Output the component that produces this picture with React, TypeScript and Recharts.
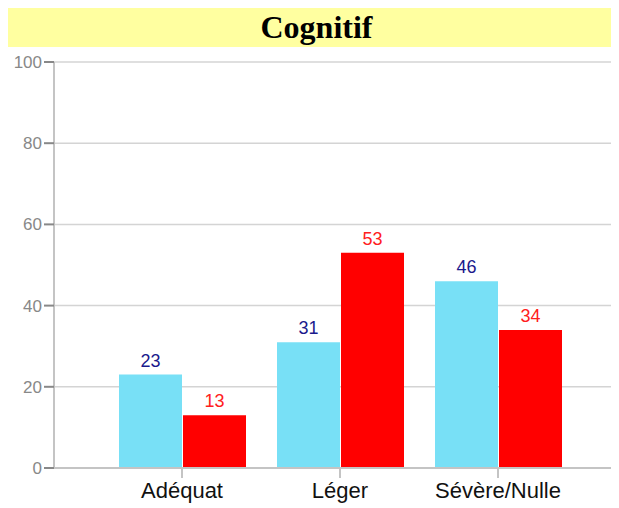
import { Bar, BarChart, CartesianGrid, LabelList, XAxis, YAxis } from 'recharts'

const categories = ['Adéquat', 'Léger', 'Sévère/Nulle']
const serieBleue = [23, 31, 46]
const serieRouge = [13, 53, 34]
const yTicks = [0, 20, 40, 60, 80, 100]

const data = categories.map((name, i) => ({
  name,
  bleu: serieBleue[i],
  rouge: serieRouge[i],
}))

const sans = '"Liberation Sans", Arial, sans-serif'

export default function App() {
  return (
    <div style={{ width: 611, marginTop: -1 }}>
      <div
        style={{
          height: 40,
          background: '#ffffa0',
          textAlign: 'center',
          fontFamily: '"Liberation Serif", "Times New Roman", serif',
          fontWeight: 'bold',
          fontSize: 32,
          lineHeight: '40px',
          paddingLeft: 6,
          boxSizing: 'border-box',
        }}
      >
        Cognitif
      </div>
      <BarChart
        width={611}
        height={461}
        data={data}
        margin={{ top: 15, right: 0, bottom: 0, left: 0 }}
        barSize={63}
        barGap={1}
      >
        <CartesianGrid vertical={false} stroke="#d4d4d4" strokeWidth={1.5} />
        <XAxis
          dataKey="name"
          padding={{ left: 49, right: 42 }}
          stroke="#c4c4c4"
          strokeWidth={2}
          tickSize={10}
          tickMargin={4}
          height={40}
          interval={0}
          tick={{ fill: '#111', fontSize: 22, fontFamily: sans }}
        />
        <YAxis
          domain={[0, 100]}
          ticks={yTicks}
          interval={0}
          width={46}
          stroke="#c4c4c4"
          strokeWidth={2}
          tickSize={10}
          tickMargin={2}
          tickLine={{ stroke: '#888', strokeWidth: 2 }}
          tick={{ fill: '#888', fontSize: 17, fontFamily: sans }}
        />
        <Bar dataKey="bleu" fill="#78e0f6" isAnimationActive={false}>
          <LabelList
            dataKey="bleu"
            position="top"
            offset={8}
            fill="#1a1a8c"
            fontSize={18}
            fontFamily={sans}
          />
        </Bar>
        <Bar dataKey="rouge" fill="#ff0000" isAnimationActive={false}>
          <LabelList
            dataKey="rouge"
            position="top"
            offset={8}
            fill="#ff2020"
            fontSize={18}
            fontFamily={sans}
          />
        </Bar>
      </BarChart>
    </div>
  )
}
